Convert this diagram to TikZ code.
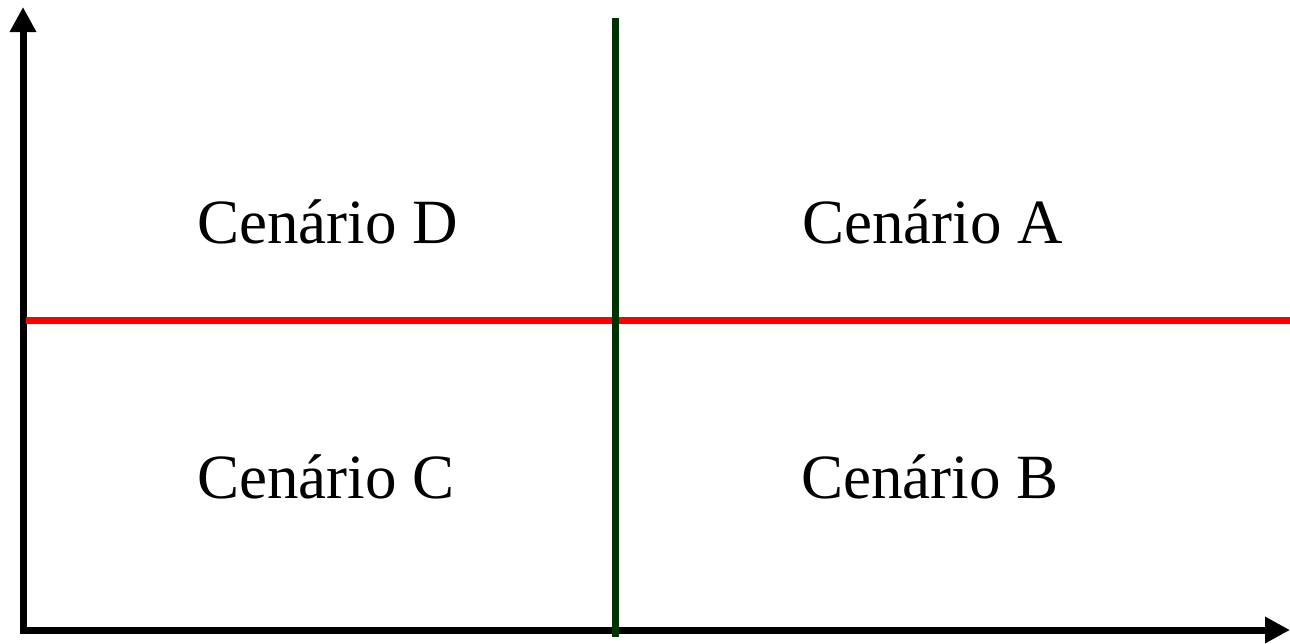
\documentclass[tikz,border=0pt]{standalone}
\usepackage{fontspec}
\setmainfont{Liberation Serif}
\usetikzlibrary{arrows.meta}
\definecolor{divgreen}{RGB}{0,51,0}
\tikzset{
  axis/.style={line width=3.5pt, black, line join=miter, -{Triangle[length=12.5pt,width=12.5pt]}},
  divline/.style={line width=3.5pt},
  lbl/.style={anchor=base west, inner sep=0pt, font=\fontsize{31.5}{38}\selectfont}
}
\begin{document}
\begin{tikzpicture}[x=0.5pt,y=-0.5pt]
\useasboundingbox (0,0) rectangle (1290,643);
\coordinate (ytip) at (23,7);
\coordinate (origin) at (23,630);
\coordinate (xtip) at (1290,630);
\coordinate (gtop) at (615.5,18);
\coordinate (gbot) at (615.5,637);
\coordinate (rl) at (26,320);
\coordinate (rr) at (1290,320);
\draw[axis] (origin) -- (ytip);
\draw[axis] (origin) -- (xtip);
\draw[line width=3.5pt] (23,633.5) -- (23,626.5);
\draw[divline, red] (rl) -- (rr);
\draw[divline, divgreen] (gtop) -- (gbot);
\node[lbl] (d) at (197,243) {Cenário D};
\node[lbl] (a) at (802,243) {Cenário A};
\node[lbl] (c) at (197,498) {Cenário C};
\node[lbl] (b) at (801,498) {Cenário B};
\end{tikzpicture}
\end{document}
